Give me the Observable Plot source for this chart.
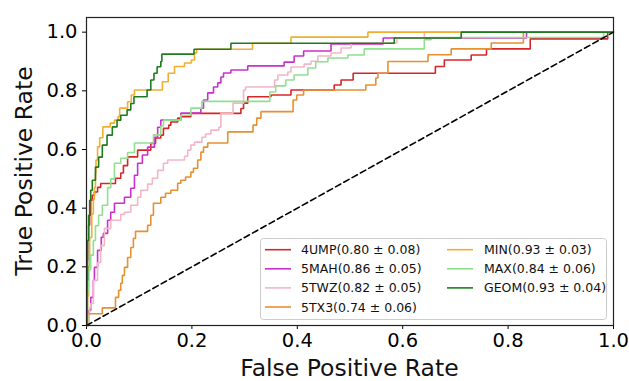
<!DOCTYPE html>
<html><head><meta charset="utf-8">
<script src="https://cdn.jsdelivr.net/npm/d3@7"></script>
<script src="https://cdn.jsdelivr.net/npm/@observablehq/plot@0.6"></script>
<style>
html,body{margin:0;padding:0;background:#fff;}
#chart svg{font-family:"DejaVu Sans",sans-serif;display:block;}
</style></head><body><div id="chart"></div>
<script>
const models = ["4UMP","5MAH","5TWZ","5TX3","MIN","MAX","GEOM"];
const legendLabels = ["4UMP(0.80 ± 0.08)","5MAH(0.86 ± 0.05)","5TWZ(0.82 ± 0.05)","5TX3(0.74 ± 0.06)","MIN(0.93 ± 0.03)","MAX(0.84 ± 0.06)","GEOM(0.93 ± 0.04)"];
const colors = ["#d62728","#cc30cc","#f2b6c6","#e69030","#f2ae30","#90e090","#1e7b1e"];
const xTicks = [0,0.2,0.4,0.6,0.8,1.0];
const yTicks = [0,0.2,0.4,0.6,0.8,1.0];
const diagonal = [[0,0],[1,1]];

const roc4UMP = [[0,0],[0.001,0.222],[0.002,0.29],[0.004,0.342],[0.006,0.376],[0.008,0.427],[0.011,0.444],[0.015,0.455],[0.021,0.471],[0.027,0.484],[0.055,0.502],[0.065,0.52],[0.07,0.545],[0.078,0.575],[0.097,0.598],[0.122,0.621],[0.131,0.639],[0.141,0.649],[0.146,0.672],[0.156,0.683],[0.16,0.694],[0.173,0.707],[0.179,0.712],[0.198,0.723],[0.293,0.74],[0.298,0.758],[0.306,0.78],[0.35,0.786],[0.388,0.803],[0.47,0.82],[0.483,0.837],[0.506,0.86],[0.662,0.883],[0.679,0.905],[0.73,0.922],[0.759,0.943],[0.842,0.977],[0.989,1],[1,1]];
const roc5MAH = [[0,0],[0.004,0.051],[0.008,0.096],[0.013,0.154],[0.015,0.198],[0.021,0.256],[0.028,0.301],[0.032,0.314],[0.040,0.359],[0.046,0.386],[0.053,0.417],[0.072,0.437],[0.084,0.468],[0.091,0.512],[0.097,0.553],[0.106,0.581],[0.116,0.608],[0.129,0.642],[0.135,0.676],[0.141,0.700],[0.179,0.724],[0.217,0.741],[0.222,0.769],[0.230,0.793],[0.241,0.813],[0.249,0.827],[0.255,0.847],[0.260,0.861],[0.274,0.871],[0.306,0.885],[0.375,0.898],[0.394,0.919],[0.412,0.936],[0.464,0.960],[0.563,0.980],[0.835,1],[1,1]];
const roc5TWZ = [[0,0],[0.004,0.034],[0.006,0.061],[0.008,0.075],[0.013,0.154],[0.021,0.215],[0.027,0.273],[0.034,0.331],[0.046,0.359],[0.065,0.379],[0.072,0.386],[0.084,0.410],[0.097,0.437],[0.103,0.461],[0.116,0.482],[0.125,0.502],[0.135,0.529],[0.146,0.553],[0.154,0.564],[0.186,0.577],[0.192,0.598],[0.198,0.615],[0.205,0.625],[0.219,0.642],[0.226,0.653],[0.236,0.666],[0.251,0.676],[0.255,0.723],[0.278,0.758],[0.298,0.803],[0.302,0.813],[0.357,0.837],[0.363,0.854],[0.382,0.864],[0.388,0.881],[0.413,0.891],[0.426,0.901],[0.439,0.919],[0.464,0.929],[0.483,0.946],[0.502,0.963],[0.589,0.980],[0.641,1],[1,1]];
const roc5TX3 = [[0,0],[0.001,0.040],[0.030,0.060],[0.055,0.096],[0.061,0.120],[0.065,0.144],[0.068,0.171],[0.072,0.198],[0.078,0.232],[0.084,0.266],[0.089,0.297],[0.093,0.321],[0.116,0.342],[0.122,0.376],[0.127,0.417],[0.141,0.437],[0.150,0.451],[0.160,0.461],[0.173,0.485],[0.179,0.495],[0.188,0.506],[0.198,0.523],[0.203,0.536],[0.211,0.564],[0.217,0.591],[0.222,0.608],[0.230,0.622],[0.268,0.660],[0.316,0.683],[0.323,0.707],[0.331,0.729],[0.392,0.769],[0.399,0.786],[0.412,0.803],[0.530,0.820],[0.549,0.844],[0.553,0.860],[0.572,0.900],[0.648,0.923],[0.692,0.943],[0.768,0.963],[0.829,1],[1,1]];
const rocMIN = [[0,0],[0.002,0.1],[0.004,0.2],[0.006,0.3],[0.010,0.38],[0.013,0.43],[0.015,0.47],[0.017,0.52],[0.018,0.564],[0.021,0.609],[0.025,0.64],[0.031,0.677],[0.045,0.69],[0.053,0.70],[0.060,0.712],[0.063,0.741],[0.078,0.763],[0.085,0.786],[0.091,0.803],[0.144,0.831],[0.155,0.86],[0.167,0.883],[0.186,0.895],[0.199,0.905],[0.205,0.929],[0.209,0.942],[0.315,0.962],[0.388,0.983],[0.534,1],[1,1]];
const rocMAX = [[0,0],[0.002,0.12],[0.004,0.19],[0.008,0.24],[0.013,0.29],[0.017,0.34],[0.023,0.376],[0.030,0.41],[0.040,0.47],[0.046,0.50],[0.053,0.553],[0.065,0.57],[0.078,0.59],[0.091,0.622],[0.127,0.65],[0.141,0.68],[0.146,0.70],[0.179,0.717],[0.198,0.741],[0.219,0.764],[0.348,0.796],[0.359,0.817],[0.378,0.837],[0.394,0.854],[0.42,0.878],[0.435,0.899],[0.458,0.912],[0.496,0.922],[0.527,0.943],[0.641,0.974],[0.654,0.982],[0.981,1],[1,1]];
const rocGEOM = [[0,0],[0.001,0.154],[0.002,0.29],[0.004,0.376],[0.006,0.427],[0.008,0.461],[0.011,0.495],[0.017,0.54],[0.023,0.574],[0.030,0.615],[0.039,0.649],[0.049,0.677],[0.058,0.700],[0.065,0.717],[0.077,0.735],[0.084,0.757],[0.090,0.780],[0.115,0.803],[0.122,0.837],[0.128,0.860],[0.134,0.882],[0.141,0.900],[0.143,0.925],[0.204,0.942],[0.274,0.962],[0.584,0.98],[0.711,1],[1,1]];

const curves = [roc4UMP, roc5MAH, roc5TWZ, roc5TX3, rocMIN, rocMAX, rocGEOM];
const rows = curves.flatMap((c, i) => c.map(([fpr, tpr]) => ({model: models[i], fpr, tpr})));

const W = 629, H = 381;
const chart = Plot.plot({
  width: W, height: H,
  marginLeft: 86, marginRight: 16, marginTop: 17, marginBottom: 56,
  style: {fontFamily: "DejaVu Sans, sans-serif", fontSize: "19.5px", color: "black", background: "white"},
  x: {domain: [0, 1]},
  y: {domain: [0, 1.05]},
  color: {domain: models, range: colors},
  marks: [
    Plot.axisX({ticks: xTicks, tickFormat: d3.format(".1f"), tickSize: 4, tickPadding: 4, label: null}),
    Plot.axisY({ticks: yTicks, tickFormat: d3.format(".1f"), tickSize: 4, tickPadding: 5, label: null}),
    Plot.line(rows, {x: "fpr", y: "tpr", z: "model", stroke: "model", curve: "step-after", strokeWidth: 1.6, strokeLinejoin: "miter", strokeLinecap: "butt"}),
    Plot.line(diagonal, {x: d => d[0], y: d => d[1], stroke: "black", strokeWidth: 1.6, strokeDasharray: "6,3.5"}),
    Plot.frame({stroke: "#222", strokeWidth: 1.2})
  ]
});
document.getElementById("chart").appendChild(chart);

const svg = d3.select(chart);
// axis titles
svg.append("text").attr("x", (86 + (W - 16)) / 2).attr("y", 376)
  .attr("text-anchor", "middle").attr("font-size", 23.5).attr("fill", "#111")
  .text("False Positive Rate");
svg.append("text").attr("transform", `translate(32,${(17 + (H - 56)) / 2}) rotate(-90)`)
  .attr("text-anchor", "middle").attr("font-size", 23.5).attr("fill", "#111")
  .text("True Positive Rate");

// legend
const lg = svg.append("g").attr("text-anchor", "start");
lg.append("rect").attr("x", 260.5).attr("y", 238.5).attr("width", 346).attr("height", 81)
  .attr("rx", 3).attr("fill", "white").attr("fill-opacity", 0.9).attr("stroke", "#cccccc");
models.forEach((m, i) => {
  const col = i < 4 ? 0 : 1, row = i < 4 ? i : i - 4;
  const lx = col ? 447 : 265, tx = col ? 484 : 301, y = 249.7 + row * 19.1;
  lg.append("line").attr("x1", lx).attr("x2", lx + 26).attr("y1", y).attr("y2", y)
    .attr("stroke", colors[i]).attr("stroke-width", 1.6);
  lg.append("text").attr("x", tx).attr("y", y).attr("dy", "0.36em").attr("text-anchor", "start")
    .attr("font-size", 12.5).attr("fill", "#111").text(legendLabels[i]);
});
</script></body></html>
